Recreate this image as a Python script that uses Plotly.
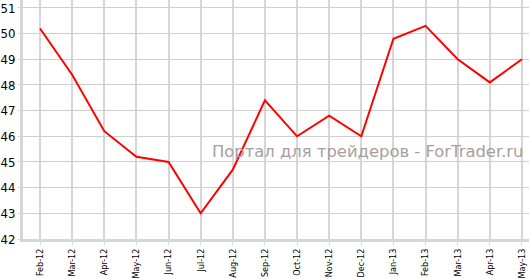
import plotly.graph_objects as go

months = ["Feb-12", "Mar-12", "Apr-12", "May-12", "Jun-12", "Jul-12", "Aug-12", "Sep-12",
          "Oct-12", "Nov-12", "Dec-12", "Jan-13", "Feb-13", "Mar-13", "Apr-13", "May-13"]
values = [50.2, 48.4, 46.2, 45.2, 45.0, 43.0, 44.7, 47.4,
          46.0, 46.8, 46.0, 49.8, 50.3, 49.0, 48.1, 49.0]
y_ticks = [42, 43, 44, 45, 46, 47, 48, 49, 50, 51]
watermark = "Портал для трейдеров - ForTrader.ru"

FONT = "DejaVu Sans Condensed, DejaVu Sans, sans-serif"

fig = go.Figure()
fig.add_trace(go.Scatter(
    x=list(range(len(months))), y=values, mode="lines",
    line=dict(color="#ff0000", width=2), hoverinfo="skip", showlegend=False,
))

fig.update_layout(
    width=529, height=279,
    margin=dict(l=23, r=0, t=0, b=40),
    paper_bgcolor="white", plot_bgcolor="white",
    font=dict(family=FONT, color="#000000"),
    xaxis=dict(
        range=[-0.53, 15.22], automargin=False,
        tickmode="array", tickvals=list(range(len(months))), ticktext=months,
        tickangle=-90, tickfont=dict(size=9, color="#000000", family=FONT),
        showgrid=True, gridcolor="#d6d6d6", gridwidth=2,
        showline=True, linecolor="#d6d6d6", linewidth=3,
        ticks="outside", ticklen=3, tickcolor="#d6d6d6", tickwidth=1,
        zeroline=False, fixedrange=True,
    ),
    yaxis=dict(
        range=[42, 51.31], automargin=False,
        tickmode="array", tickvals=y_ticks,
        tickfont=dict(size=13, color="#000000", family=FONT),
        showgrid=True, gridcolor="#cfcfcf", gridwidth=1,
        showline=True, linecolor="#d6d6d6", linewidth=3,
        ticks="outside", ticklen=2, tickcolor="#d6d6d6", tickwidth=1,
        zeroline=False, fixedrange=True,
    ),
    annotations=[dict(
        text=watermark, xref="paper", yref="paper", x=0.682, y=0.368,
        xanchor="center", yanchor="middle", showarrow=False,
        font=dict(size=16.4, color="#a89e9e", family="DejaVu Sans, sans-serif"),
    )],
)

fig.write_html("out.html", config={"displayModeBar": False})
